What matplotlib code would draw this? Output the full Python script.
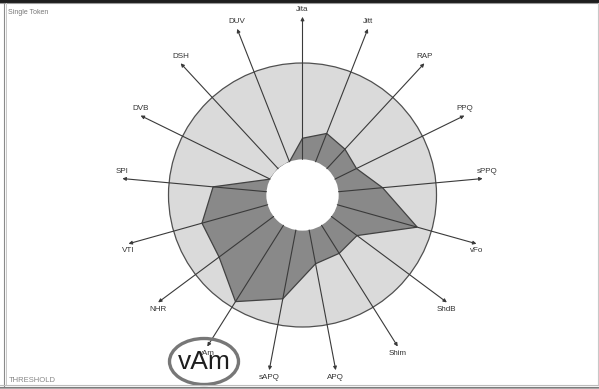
import numpy as np
import matplotlib
matplotlib.use("Agg")
import matplotlib.pyplot as plt
from matplotlib.patches import Circle, Ellipse, Polygon, Rectangle

plt.rcParams['font.family'] = ['Liberation Sans', 'DejaVu Sans']

# 参数名（从正上方顺时针）
params = ["Jita", "Jitt", "RAP", "PPQ", "sPPQ", "vFo", "ShdB", "Shim", "APQ",
          "sAPQ", "vAm", "NHR", "VTI", "SPI", "DVB", "DSH", "DUV"]
# 归一化数值：1.0 = 阈值圆，0.27 = 中心孔
values = [0.43, 0.50, 0.47, 0.45, 0.60, 0.89, 0.51, 0.52, 0.53,
          0.80, 0.95, 0.78, 0.78, 0.67, 0.27, 0.27, 0.27]

hole = 0.27
arrow_len = 1.35

W, H = 599, 389
cx, cy = 302.5, 195.0  # 圆心像素位置
sx, sy = 134.0, 132.0  # 每单位半径对应像素

fig = plt.figure(figsize=(W / 100, H / 100), dpi=100)
fig.patch.set_facecolor("white")

# 雷达图主体
ax = fig.add_axes([0, 0, 1, 1])
ax.set_xlim(-cx / sx, (W - cx) / sx)
ax.set_ylim(-(H - cy) / sy, cy / sy)
ax.axis("off")

n = len(params)
theta = np.deg2rad(90 - np.arange(n) * 360.0 / n)
vals = np.array(values)

ax.add_patch(Circle((0, 0), 1.0, facecolor="#dadada", edgecolor="#505050",
                    lw=0.9, zorder=1))
pts = np.column_stack([vals * np.cos(theta), vals * np.sin(theta)])
ax.add_patch(Polygon(pts, closed=True, facecolor="#898989", edgecolor="#424242",
                     lw=0.9, zorder=2))
ax.add_patch(Circle((0, 0), hole, facecolor="white", edgecolor="none", zorder=3))

for i in range(n):
    c, s = np.cos(theta[i]), np.sin(theta[i])
    start = (hole * c, hole * s)
    tip = (arrow_len * c, arrow_len * s)
    ax.annotate("", xy=tip, xytext=start,
                arrowprops=dict(arrowstyle="-|>", color="#3a3a3a", lw=0.8,
                                mutation_scale=5, shrinkA=0, shrinkB=0),
                zorder=4)
    dy = 5 if s >= 0 else -5
    dx = 3 if i == 4 else 0
    ax.annotate(params[i], xy=tip, xytext=(dx, dy), textcoords="offset points",
                ha="center", va="center", fontsize=5.8, color="#333333", zorder=5)

# 边框和注释（像素坐标）
ax2 = fig.add_axes([0, 0, 1, 1])
ax2.set_xlim(0, W)
ax2.set_ylim(H, 0)
ax2.patch.set_alpha(0)
ax2.axis("off")

ax2.add_patch(Rectangle((0, 0), W, 2.8, facecolor="#1e1e1e", edgecolor="none"))
ax2.plot([0, W], [3.4, 3.4], color="#9a9a9a", lw=0.8)
ax2.plot([3.5, 3.5], [3, H], color="#8a8a8a", lw=0.8)
ax2.plot([5.5, 5.5], [3, 385], color="#c8c8c8", lw=0.7)
ax2.plot([597.5, 597.5], [3, 385], color="#c8c8c8", lw=0.8)
ax2.plot([0, W], [384.5, 384.5], color="#bdbdbd", lw=0.8)
ax2.plot([0, W], [386.5, 386.5], color="#7a7a7a", lw=0.8)
ax2.plot([0, W], [388.3, 388.3], color="#aaaaaa", lw=0.8)

ax2.text(8, 12, "Single Token", fontsize=5, color="#777777", ha="left", va="center")
ax2.text(9, 380, "THRESHOLD", fontsize=5.5, color="#888888", ha="left", va="center")

ax2.add_patch(Ellipse((204, 361.5), 69, 46, facecolor="none",
                      edgecolor="#777777", lw=2.4))
ax2.text(204, 362, "vAm", fontsize=19, color="#1e1e1e", ha="center", va="center")

fig.savefig("out.png", dpi=100)
